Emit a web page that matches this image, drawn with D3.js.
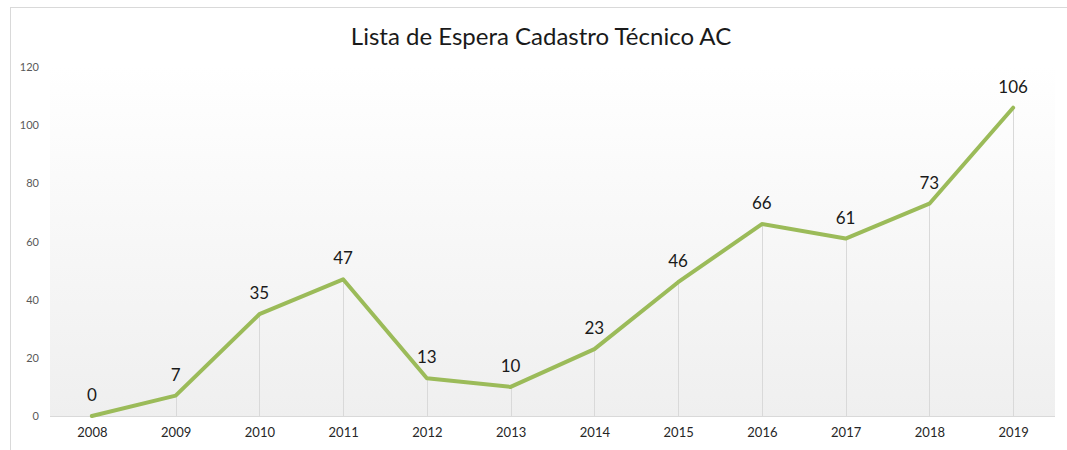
<!DOCTYPE html>
<html>
<head>
<meta charset="utf-8">
<script src="https://cdn.jsdelivr.net/npm/d3@7"></script>
<style>
  body { margin: 0; background: #fff; }
  svg { display: block; font-family: Lato, "Open Sans", sans-serif; }
</style>
</head>
<body>
<div id="chart"></div>
<script>
"use strict";

// data
const years = ["2008", "2009", "2010", "2011", "2012", "2013", "2014", "2015", "2016", "2017", "2018", "2019"];
const waiting = [0, 7, 35, 47, 13, 10, 23, 46, 66, 61, 73, 106];
const yTicks = [0, 20, 40, 60, 80, 100, 120];
const title = "Lista de Espera Cadastro Técnico AC";

// layout
const width = 1067, height = 450;
const plot = { left: 50, right: 1055, top: 67, bottom: 416 };

const svg = d3.select("#chart").append("svg")
    .attr("width", width)
    .attr("height", height);

// outer chart border
svg.append("rect")
    .attr("x", 10.5).attr("y", 7.5)
    .attr("width", width + 20).attr("height", height + 20)
    .attr("fill", "#fff")
    .attr("stroke", "#d9d9d9");

// plot area gradient
let grad = svg.append("defs").append("linearGradient")
    .attr("id", "plotBg")
    .attr("x1", 0).attr("y1", 0).attr("x2", 0).attr("y2", 1);
grad.append("stop").attr("offset", "0%").attr("stop-color", "#ffffff");
grad.append("stop").attr("offset", "100%").attr("stop-color", "#efefef");

svg.append("rect")
    .attr("x", plot.left).attr("y", plot.top)
    .attr("width", plot.right - plot.left).attr("height", plot.bottom - plot.top)
    .attr("fill", "url(#plotBg)");

// scales
let scaleX = d3.scalePoint()
    .domain(years)
    .range([plot.left, plot.right])
    .padding(0.5);

let scaleY = d3.scaleLinear()
    .domain([0, 120])
    .range([plot.bottom, plot.top]);

// title
svg.append("text")
    .attr("x", 541).attr("y", 45)
    .attr("text-anchor", "middle")
    .attr("font-size", 24)
    .attr("fill", "#1a1a1a")
    .text(title);

// y axis labels (no line)
let yAxis = svg.append("g")
    .attr("class", "y_axis")
    .attr("transform", `translate(${plot.left}, 0)`)
    .call(d3.axisLeft(scaleY).tickValues(yTicks).tickSize(0).tickPadding(11));
yAxis.select(".domain").remove();
yAxis.selectAll("text")
    .attr("font-family", "Lato, 'Open Sans', sans-serif")
    .attr("font-size", 11)
    .attr("fill", "#595959");

// drop lines
svg.append("g")
    .selectAll("line")
    .data(waiting)
    .enter()
    .append("line")
    .attr("x1", (d, i) => Math.round(scaleX(years[i])) + 0.5)
    .attr("x2", (d, i) => Math.round(scaleX(years[i])) + 0.5)
    .attr("y1", d => scaleY(d))
    .attr("y2", plot.bottom)
    .attr("stroke", "#d9d9d9")
    .attr("stroke-width", 1);

// x axis
let xAxis = svg.append("g")
    .attr("class", "x_axis")
    .attr("transform", `translate(0, ${plot.bottom})`)
    .call(d3.axisBottom(scaleX).tickSize(0).tickPadding(12));
xAxis.select(".domain")
    .attr("stroke", "#d9d9d9")
    .attr("d", `M${plot.left},0.5H${plot.right}`);
xAxis.selectAll("text")
    .attr("font-family", "Lato, 'Open Sans', sans-serif")
    .attr("font-size", 13)
    .attr("fill", "#262626");

// line
let line = d3.line()
    .x((d, i) => scaleX(years[i]))
    .y(d => scaleY(d));

svg.append("path")
    .datum(waiting)
    .attr("d", line)
    .attr("fill", "none")
    .attr("stroke", "#9bbb59")
    .attr("stroke-width", 4)
    .attr("stroke-linejoin", "round")
    .attr("stroke-linecap", "round");

// data labels
svg.append("g")
    .selectAll("text")
    .data(waiting)
    .enter()
    .append("text")
    .attr("x", (d, i) => scaleX(years[i]))
    .attr("y", d => scaleY(d) - 15)
    .attr("text-anchor", "middle")
    .attr("font-size", 17)
    .attr("fill", "#1a1a1a")
    .text(d => d);
</script>
</body>
</html>
